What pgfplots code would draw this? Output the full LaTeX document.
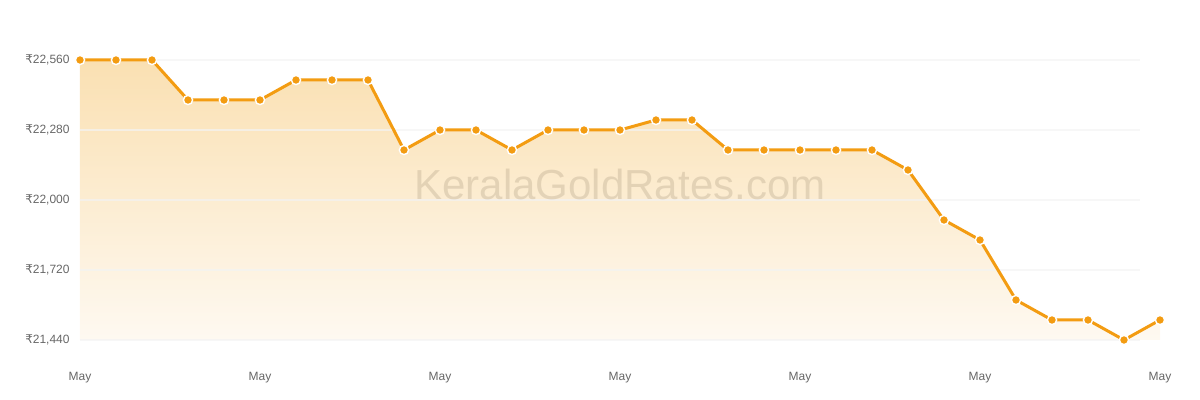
\documentclass[border=0pt]{standalone}
\usepackage{pgfplots}
\pgfplotsset{compat=1.18}
\usepackage{pgfplotstable}
\usepackage{fontspec}
\setmainfont{Liberation Sans}
\newfontfamily\rupeefont{DejaVu Sans}
\newcommand{\Rs}{{\rupeefont ₹}}

\definecolor{gold}{HTML}{F39C12}
\definecolor{filltop}{HTML}{FAE0B2}
\definecolor{fillbot}{HTML}{FEF9F1}
\definecolor{labelgray}{HTML}{666666}
\definecolor{gridc}{HTML}{F3F3F3}
\definecolor{wmark}{HTML}{8C7B60}

% day index, rate
\pgfplotstableread{
x y
0 22560
1 22560
2 22560
3 22400
4 22400
5 22400
6 22480
7 22480
8 22480
9 22200
10 22280
11 22280
12 22200
13 22280
14 22280
15 22280
16 22320
17 22320
18 22200
19 22200
20 22200
21 22200
22 22200
23 22120
24 21920
25 21840
26 21600
27 21520
28 21520
29 21440
30 21520
}\rates

\begin{document}
\begin{tikzpicture}
\begin{axis}[
  at={(0,0)}, anchor=south west,
  scale only axis,
  width=540pt, height=140pt,
  xmin=0, xmax=30, ymin=21440, ymax=22560,
  clip=false,
  scaled y ticks=false,
  axis line style={draw=none},
  major tick length=0pt,
  tick style={draw=none},
  xtick={0,5,...,30},
  xticklabels={May,May,May,May,May,May,May},
  ytick={21440,21720,22000,22280,22560},
  yticklabels={{\Rs21,440},{\Rs21,720},{\Rs22,000},{\Rs22,280},{\Rs22,560}},
  ticklabel style={font=\fontsize{6}{7}\selectfont, text=labelgray},
  xticklabel style={anchor=north, inner sep=0pt, yshift=-16pt},
  yticklabel style={anchor=east, inner sep=0pt, xshift=-5pt},
]
  % area under the line
  \addplot[draw=none, shade, top color=filltop, bottom color=fillbot]
    table[x=x, y=y] {\rates} -- (axis cs:30,21440) -- (axis cs:0,21440) -- cycle;
  % horizontal grid
  \addplot[gridc, line width=0.6pt, opacity=0.7] coordinates {(0,21440) (29.44,21440)};
  \addplot[gridc, line width=0.6pt, opacity=0.7] coordinates {(0,21720) (29.44,21720)};
  \addplot[gridc, line width=0.6pt, opacity=0.7] coordinates {(0,22000) (29.44,22000)};
  \addplot[gridc, line width=0.6pt, opacity=0.7] coordinates {(0,22280) (29.44,22280)};
  \addplot[gridc, line width=0.6pt, opacity=0.7] coordinates {(0,22560) (29.44,22560)};
  % watermark
  \node[anchor=base, inner sep=0pt, text=wmark, opacity=0.22,
        font=\fontsize{21}{24}\selectfont] at (axis cs:15,22000) {KeralaGoldRates.com};
  % rate line
  \addplot[gold, line width=1.5pt, mark=*, mark size=2.3pt,
           mark options={fill=gold, draw=white, line width=0.7pt}]
    table[x=x, y=y] {\rates};
\end{axis}
\pgfresetboundingbox
\path[use as bounding box] (-40pt,-30pt) rectangle (560pt,170pt);
\end{tikzpicture}
\end{document}
